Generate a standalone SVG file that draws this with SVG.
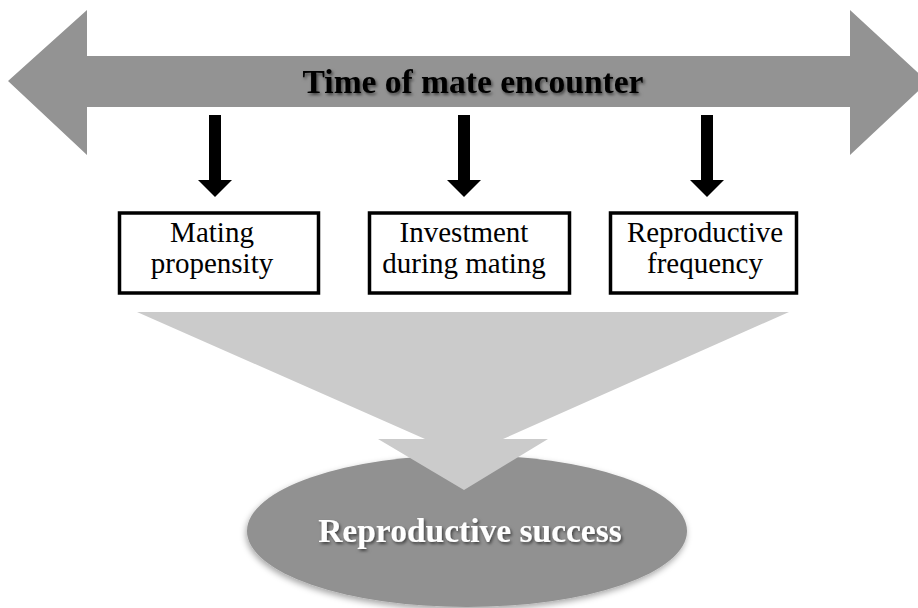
<svg xmlns="http://www.w3.org/2000/svg" width="918" height="608" viewBox="0 0 918 608">
  <defs>
    <style>
      .box { fill: #ffffff; stroke: #000000; stroke-width: 3.5; }
      .lbl { font-family: "Liberation Serif", "Times New Roman", serif; font-size: 29px; fill: #000000; text-anchor: middle; }
      .ttl { font-family: "Liberation Serif", "Times New Roman", serif; font-size: 33.5px; font-weight: bold; text-anchor: middle; }
      .blk { fill: #000000; }
    </style>
    <filter id="tshadow" x="-10%" y="-30%" width="120%" height="170%">
      <feDropShadow dx="1.5" dy="2" stdDeviation="1.5" flood-color="#000000" flood-opacity="0.55"/>
    </filter>
    <filter id="eshadow" x="-10%" y="-10%" width="120%" height="130%">
      <feDropShadow dx="-1" dy="3" stdDeviation="3" flood-color="#000000" flood-opacity="0.35"/>
    </filter>
  </defs>

  <g id="time-arrow">
    <polygon points="8,81 87,10 87,56 850,56 850,10 928,82 850,155 850,107 87,107 87,155" fill="#939393"/>
    <text class="ttl" x="473" y="93" fill="#000000" filter="url(#tshadow)">Time of mate encounter</text>
  </g>

  <g id="connectors">
    <polygon class="blk" points="209,115 221,115 221,180 232,180 215,197 198,180 209,180"/>
    <polygon class="blk" points="458,115 470,115 470,180 481,180 464,197 447,180 458,180"/>
    <polygon class="blk" points="701,115 713,115 713,180 724,180 707,197 690,180 701,180"/>
  </g>

  <g id="mating-propensity">
    <rect class="box" x="119.5" y="213" width="199" height="80"/>
    <text class="lbl" x="212" y="242">Mating</text>
    <text class="lbl" x="212" y="273">propensity</text>
  </g>

  <g id="investment-during-mating">
    <rect class="box" x="369.5" y="213" width="200" height="80"/>
    <text class="lbl" x="464" y="242">Investment</text>
    <text class="lbl" x="464" y="273">during mating</text>
  </g>

  <g id="reproductive-frequency">
    <rect class="box" x="610.5" y="213" width="186" height="80"/>
    <text class="lbl" x="705" y="242">Reproductive</text>
    <text class="lbl" x="705" y="273">frequency</text>
  </g>

  <g id="reproductive-success">
    <ellipse cx="467" cy="531" rx="220" ry="76" fill="#919191" filter="url(#eshadow)"/>
    <text class="ttl" x="470" y="542" fill="#ffffff" filter="url(#tshadow)">Reproductive success</text>
  </g>

  <g id="funnel">
    <polygon points="137,312 789,312 503,439 548,439 464,490 378,439 425,439" fill="#cbcbcb"/>
  </g>
</svg>
